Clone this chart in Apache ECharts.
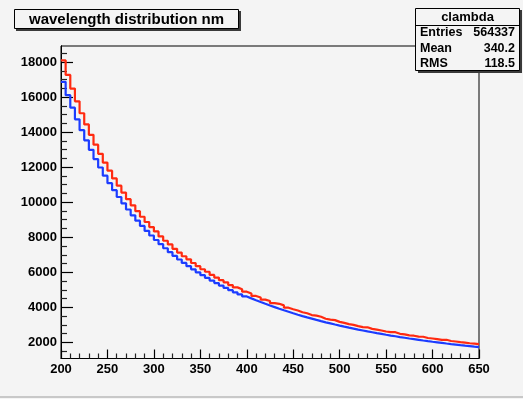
<!DOCTYPE html>
<html><head><meta charset="utf-8">
<script src="https://cdn.jsdelivr.net/npm/echarts@6/dist/echarts.min.js"></script>
<style>html,body{margin:0;padding:0;background:#f4f4f4}#c{width:523px;height:399px}</style>
</head><body><div id="c"></div>
<script>
// histogram binning (nm)
const xMin = 200, xMax = 650, binWidth = 5;
const xTickLabels = [200, 250, 300, 350, 400, 450, 500, 550, 600, 650];
const yTickLabels = [2000, 4000, 6000, 8000, 10000, 12000, 14000, 16000, 18000];
const yMinorTicks = [1500, 2500, 3000, 3500, 4500, 5000, 5500, 6500, 7000, 7500, 8500, 9000, 9500,
  10500, 11000, 11500, 12500, 13000, 13500, 14500, 15000, 15500, 16500, 17000, 17500, 18500];

// red histogram counts per 5 nm bin (200..650)
const redCounts = [18100, 17263, 16484, 15757, 15076, 14441, 13845, 13285, 12759, 12263,
  11797, 11356, 10941, 10547, 10175, 9822, 9488, 9171, 8869, 8582,
  8330, 8049, 7801, 7590, 7339, 7123, 6916, 6740, 6530, 6349,
  6175, 6030, 5849, 5696, 5548, 5430, 5270, 5139, 5030, 4891,
  4790, 4650, 4560, 4440, 4360, 4240, 4200, 4110, 3980, 3890,
  3820, 3720, 3660, 3560, 3530, 3460, 3350, 3300, 3270, 3170,
  3110, 3040, 3000, 2930, 2870, 2860, 2770, 2730, 2680, 2620,
  2590, 2580, 2490, 2460, 2400, 2380, 2330, 2320, 2250, 2220,
  2190, 2140, 2150, 2080, 2050, 2010, 1990, 1950, 1930, 1900];

// blue histogram counts per 5 nm bin (200..650)
const blueCounts = [16869, 16106, 15396, 14733, 14111, 13531, 12987, 12461, 11981, 11515,
  11089, 10686, 10296, 9935, 9585, 9252, 8947, 8648, 8363, 8101,
  7844, 7606, 7372, 7149, 6935, 6731, 6536, 6349, 6171, 6000,
  5835, 5679, 5527, 5383, 5243, 5110, 4980, 4856, 4737, 4622,
  4511, 4405, 4302, 4202, 4106, 4014, 3920, 3830, 3747, 3662,
  3580, 3501, 3424, 3353, 3281, 3211, 3144, 3081, 3018, 2956,
  2896, 2838, 2785, 2730, 2677, 2624, 2577, 2528, 2481, 2434,
  2388, 2348, 2304, 2263, 2222, 2185, 2147, 2109, 2072, 2036,
  2004, 1970, 1936, 1904, 1875, 1844, 1814, 1785, 1755, 1727];

const titleText = 'wavelength distribution nm';
const statsName = 'clambda';
const statsRows = [['Entries', '564337'], ['Mean', '340.2'], ['RMS', '118.5']];

function toSteps(vals) {
  const pts = vals.map((v, i) => [xMin + i * binWidth, v]);
  pts.push([xMin + vals.length * binWidth, vals[vals.length - 1]]);
  return pts;
}

const FONT = '"Liberation Sans", Arial, Helvetica, sans-serif';
const chart = echarts.init(document.getElementById('c'), null, { renderer: 'canvas' });

const graphic = [
  { type: 'rect', shape: { x: 16, y: 11, width: 225, height: 20 }, style: { fill: '#3a3a3a' }, z: 100 },
  { type: 'rect', shape: { x: 14.5, y: 9.5, width: 224, height: 19 }, style: { fill: '#f4f4f4', stroke: '#000', lineWidth: 1 }, z: 101 },
  { type: 'text', x: 126.5, y: 19.5, style: { text: titleText, font: 'bold 15px ' + FONT, fill: '#000', align: 'center', verticalAlign: 'middle' }, z: 102 },
  { type: 'rect', shape: { x: 418, y: 10, width: 104, height: 63 }, style: { fill: '#3a3a3a' }, z: 100 },
  { type: 'rect', shape: { x: 415.5, y: 8.5, width: 104, height: 62 }, style: { fill: '#f4f4f4', stroke: '#000', lineWidth: 1 }, z: 101 },
  { type: 'line', shape: { x1: 415.5, y1: 25.5, x2: 519.5, y2: 25.5 }, style: { stroke: '#000', lineWidth: 1 }, z: 102 },
  { type: 'text', x: 467.5, y: 17, style: { text: statsName, font: 'bold 13px ' + FONT, fill: '#000', align: 'center', verticalAlign: 'middle' }, z: 102 },
  { type: 'rect', shape: { x: 0, y: 396, width: 523, height: 2 }, style: { fill: '#c8c8c8' }, z: 100 }
];
statsRows.forEach((r, i) => {
  const y = 33 + i * 15.3;
  graphic.push({ type: 'text', x: 420, y: y, style: { text: r[0], font: 'bold 12.5px ' + FONT, fill: '#000', align: 'left', verticalAlign: 'middle' }, z: 102 });
  graphic.push({ type: 'text', x: 515, y: y, style: { text: r[1], font: 'bold 12.5px ' + FONT, fill: '#000', align: 'right', verticalAlign: 'middle' }, z: 102 });
});

const plain = v => String(v);
const axisLabelStyle = { color: '#000', fontWeight: 'bold', fontSize: 13, fontFamily: FONT, margin: 4, formatter: plain };

chart.setOption({
  animation: false,
  backgroundColor: '#f4f4f4',
  grid: { left: 61, top: 46, width: 418, height: 312.5, show: true, borderColor: '#000', borderWidth: 1, backgroundColor: 'transparent' },
  xAxis: {
    type: 'value', min: xMin, max: xMax, interval: 50,
    axisLine: { lineStyle: { color: '#000', width: 1 } },
    axisTick: { show: true, inside: true, length: 9, lineStyle: { color: '#000', width: 1.2 } },
    minorTick: { show: true, splitNumber: 5, length: 5, lineStyle: { color: '#222', width: 1.2 } },
    splitLine: { show: false },
    minorSplitLine: { show: false },
    axisLabel: axisLabelStyle
  },
  yAxis: [{
    type: 'value', min: 1080, max: 18915,
    axisLine: { show: true, lineStyle: { color: '#000', width: 1 } },
    axisTick: { show: true, inside: true, length: 12, lineStyle: { color: '#000', width: 1.2 }, customValues: yTickLabels },
    splitLine: { show: false },
    axisLabel: Object.assign({ customValues: yTickLabels }, axisLabelStyle)
  }, {
    type: 'value', min: 1080, max: 18915, position: 'left', offset: 0,
    axisLine: { show: true, lineStyle: { color: '#000', width: 1 } },
    axisTick: { show: true, inside: true, length: 6, lineStyle: { color: '#222', width: 1.2 }, customValues: yMinorTicks },
    splitLine: { show: false },
    axisLabel: { show: false }
  }],
  series: [
    { type: 'line', step: 'end', data: toSteps(blueCounts), symbol: 'none', yAxisIndex: 0,
      lineStyle: { color: '#1c3cff', width: 2.2 }, z: 3 },
    { type: 'line', step: 'end', data: toSteps(redCounts), symbol: 'none', yAxisIndex: 0,
      lineStyle: { color: '#ff2a10', width: 2.2 }, z: 4 }
  ],
  graphic: graphic
});
</script>
</body></html>
